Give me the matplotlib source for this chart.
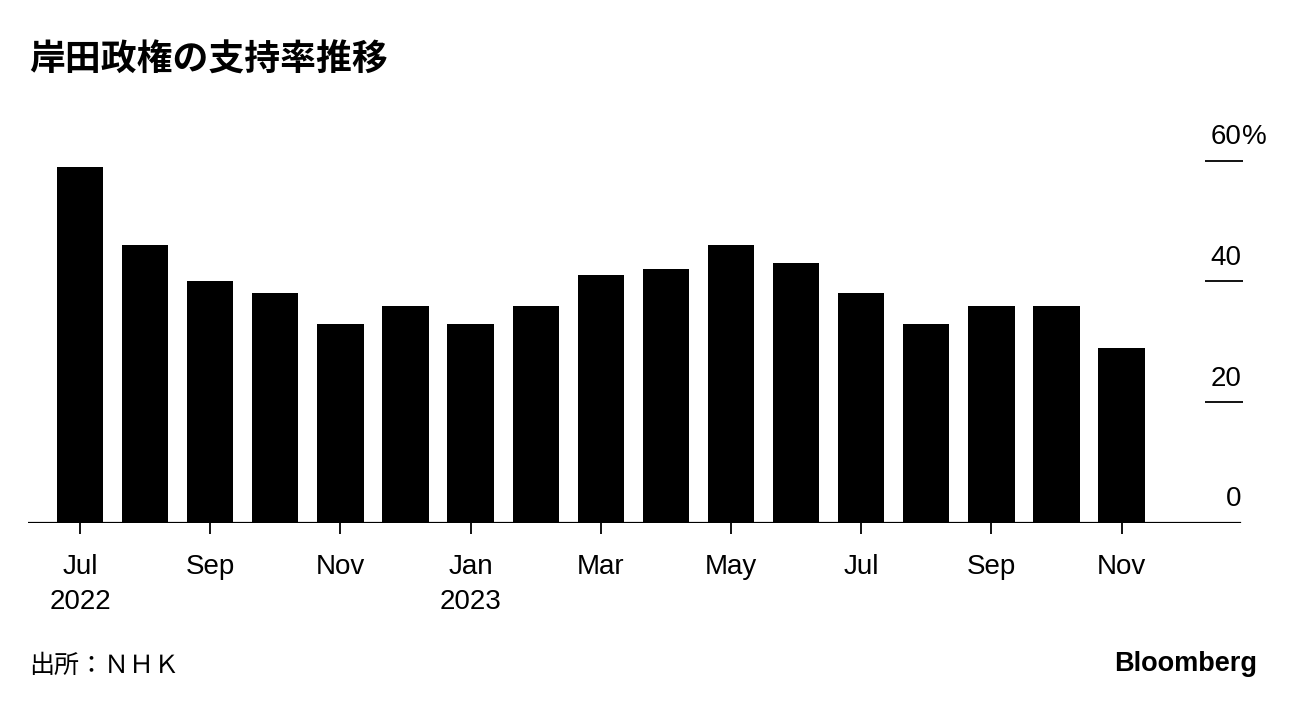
import matplotlib
matplotlib.use('Agg')
import matplotlib.pyplot as plt

# NHK approval ratings, Jul 2022 - Nov 2023
months = ['Jul', 'Aug', 'Sep', 'Oct', 'Nov', 'Dec', 'Jan', 'Feb', 'Mar',
          'Apr', 'May', 'Jun', 'Jul', 'Aug', 'Sep', 'Oct', 'Nov']
years = ['2022', '', '', '', '', '', '2023', '', '', '',
         '', '', '', '', '', '', '']
approval = [59, 46, 40, 38, 33, 36, 33, 36, 41, 42, 46, 43, 38, 33, 36, 36, 29]
ytick_vals = [20, 40, 60]

title = '岸田政権の支持率推移'
source = '出所：ＮＨＫ'

W, H = 1296, 708
fig = plt.figure(figsize=(W / 100, H / 100), dpi=100)

# axes placed in pixels: left 28, right 1243, baseline 523
x_left, x_right = 28, 1243
y_base, px_per_unit = 523, 6.04
ymax = 62
ax = fig.add_axes([x_left / W, (H - y_base) / H, (x_right - x_left) / W,
                   ymax * px_per_unit / H])

step = 65.1
x = list(range(len(approval)))
ax.bar(x, approval, width=0.71, color='black', zorder=2)
ax.set_xlim(-(80 - x_left) / step, (x_right - 80) / step)
ax.set_ylim(0, ymax)

for s in ax.spines.values():
    s.set_visible(False)
ax.axhline(0, xmin=0, xmax=(1240 - x_left) / (x_right - x_left),
           color='black', lw=1.6, zorder=3)

lbl_font = {'family': ['Liberation Sans', 'DejaVu Sans'], 'size': 20}

# x ticks every two months
pos = x[::2]
labels = [m + ('\n' + y if y else '') for m, y in zip(months[::2], years[::2])]
ax.set_xticks(pos)
ax.set_xticklabels(labels, fontdict=lbl_font, linespacing=1.45, va='top')
ax.tick_params(axis='x', length=8, width=1.3, pad=14, colors='black')

# right side ticks drawn inwards, labels above
ax.yaxis.tick_right()
ax.set_yticks(ytick_vals)
ax.tick_params(axis='y', direction='in', length=27.5, width=1.3,
               labelright=False, colors='black')
for v in [0] + ytick_vals:
    ax.annotate(str(v), xy=(1, v), xycoords=('axes fraction', 'data'),
                xytext=(-1, 12), textcoords='offset points',
                ha='right', va='baseline', **lbl_font)
ax.annotate('%', xy=(1, ytick_vals[-1]), xycoords=('axes fraction', 'data'),
            xytext=(-1, 12), textcoords='offset points',
            ha='left', va='baseline', **lbl_font)

fig.text(29 / W, 1 - 60 / H, title, ha='left', va='center',
         family=['Noto Sans CJK JP', 'DejaVu Sans'], weight='bold',
         fontsize=25.8)
fig.text(29 / W, 1 - 666 / H, source, ha='left', va='center',
         family=['Noto Sans CJK JP', 'DejaVu Sans'], fontsize=18)
fig.text(1257 / W, 1 - 664 / H, 'Bloomberg', ha='right', va='center',
         family=['Liberation Sans', 'DejaVu Sans'], weight='bold',
         fontsize=19.5)

fig.savefig('out.png', dpi=100)
